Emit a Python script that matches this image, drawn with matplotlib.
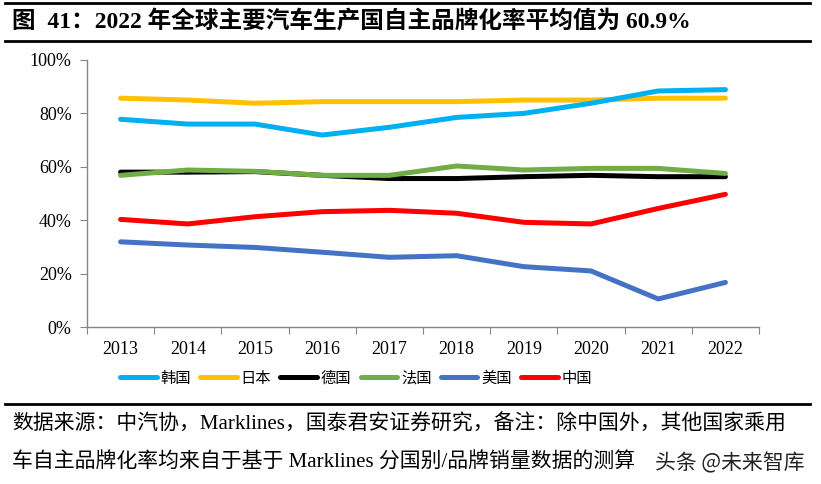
import matplotlib
matplotlib.use("Agg")
import matplotlib.pyplot as plt
from matplotlib.lines import Line2D

plt.rcParams['font.family'] = ['Liberation Serif', 'Noto Sans CJK SC', 'DejaVu Sans']

years = ['2013', '2014', '2015', '2016', '2017', '2018', '2019', '2020', '2021', '2022']
korea = [77.8, 76.0, 76.0, 71.9, 74.8, 78.5, 80.0, 83.8, 88.4, 88.9]
japan = [85.7, 85.0, 83.8, 84.4, 84.4, 84.4, 85.0, 85.0, 85.7, 85.7]
germany = [58.0, 58.0, 58.2, 56.8, 55.6, 55.6, 56.3, 56.8, 56.3, 56.3]
france = [56.8, 58.8, 58.3, 56.8, 56.8, 60.3, 58.8, 59.4, 59.4, 57.5]
usa = [31.9, 30.7, 29.8, 28.0, 26.1, 26.7, 22.6, 21.0, 10.5, 16.7]
china = [40.3, 38.6, 41.3, 43.2, 43.7, 42.6, 39.2, 38.6, 44.4, 49.7]

series_names = ['韩国', '日本', '德国', '法国', '美国', '中国']
series_vals = [korea, japan, germany, france, usa, china]
colors = ['#00B0F0', '#FFC000', '#000000', '#70AD47', '#4472C4', '#FF0000']
draw_order = [1, 0, 2, 3, 4, 5]

fig = plt.figure(figsize=(8.21, 4.84), dpi=100)
ax = fig.add_axes([87/821, 1-327/484, (759-87)/821, (327-60)/484])

x = list(range(len(years)))
for i in draw_order:
    ax.plot(x, series_vals[i], color=colors[i], lw=3.6, solid_capstyle='round', solid_joinstyle='round')

ax.set_xlim(-0.5, len(years)-0.5)
ax.set_ylim(0, 100)
ax.set_yticks([0, 20, 40, 60, 80, 100])
ax.set_yticklabels([f'{v}%' for v in [0, 20, 40, 60, 80, 100]], fontsize=13)
ax.set_xticks([i-0.5 for i in range(len(years)+1)])
ax.set_xticklabels([])
ax.set_xticks(x, minor=True)
ax.set_xticklabels(years, minor=True, fontsize=13)
ax.tick_params(axis='x', which='major', length=5, color='#868686', direction='out')
ax.tick_params(axis='x', which='minor', length=0, pad=10)
ax.tick_params(axis='y', length=5, color='#868686', direction='out', pad=6)
for s in ['top', 'right']:
    ax.spines[s].set_visible(False)
for s in ['left', 'bottom']:
    ax.spines[s].set_color('#868686')
    ax.spines[s].set_linewidth(1.0)

handles = [Line2D([0], [0], color=c, lw=3.6, solid_capstyle='round') for c in colors]
leg = fig.legend(handles, series_names, loc='center', bbox_to_anchor=(356/821, 1-378/484),
                 ncol=6, frameon=False, handlelength=2.4, handletextpad=0.25,
                 columnspacing=0.6, prop={'family': ['Noto Sans CJK SC'], 'size': 11})

fig.lines.append(Line2D([5/821, 810/821], [1-3/484, 1-3/484], color='black', lw=2, transform=fig.transFigure))
fig.lines.append(Line2D([5/821, 810/821], [1-41/484, 1-41/484], color='black', lw=2, transform=fig.transFigure))
fig.lines.append(Line2D([5/821, 810/821], [1-404/484, 1-404/484], color='black', lw=2, transform=fig.transFigure))
fig.text(12/821, 1-22/484, '图  41：2022 年全球主要汽车生产国自主品牌化率平均值为 60.9%',
         fontsize=17, fontweight='bold', va='center', ha='left')

fig.text(12/821, 1-425/484, '数据来源：中汽协，Marklines，国泰君安证券研究，备注：除中国外，其他国家乘用',
         fontsize=15, va='center', ha='left')
fig.text(12/821, 1-463/484, '车自主品牌化率均来自于基于 Marklines 分国别/品牌销量数据的测算',
         fontsize=15, va='center', ha='left')
fig.text(655/821, 1-463/484, '头条 @未来智库', fontsize=15, va='center', ha='left',
         family=['Noto Sans CJK SC'], color='#222222')

fig.savefig('out.png', dpi=100)
